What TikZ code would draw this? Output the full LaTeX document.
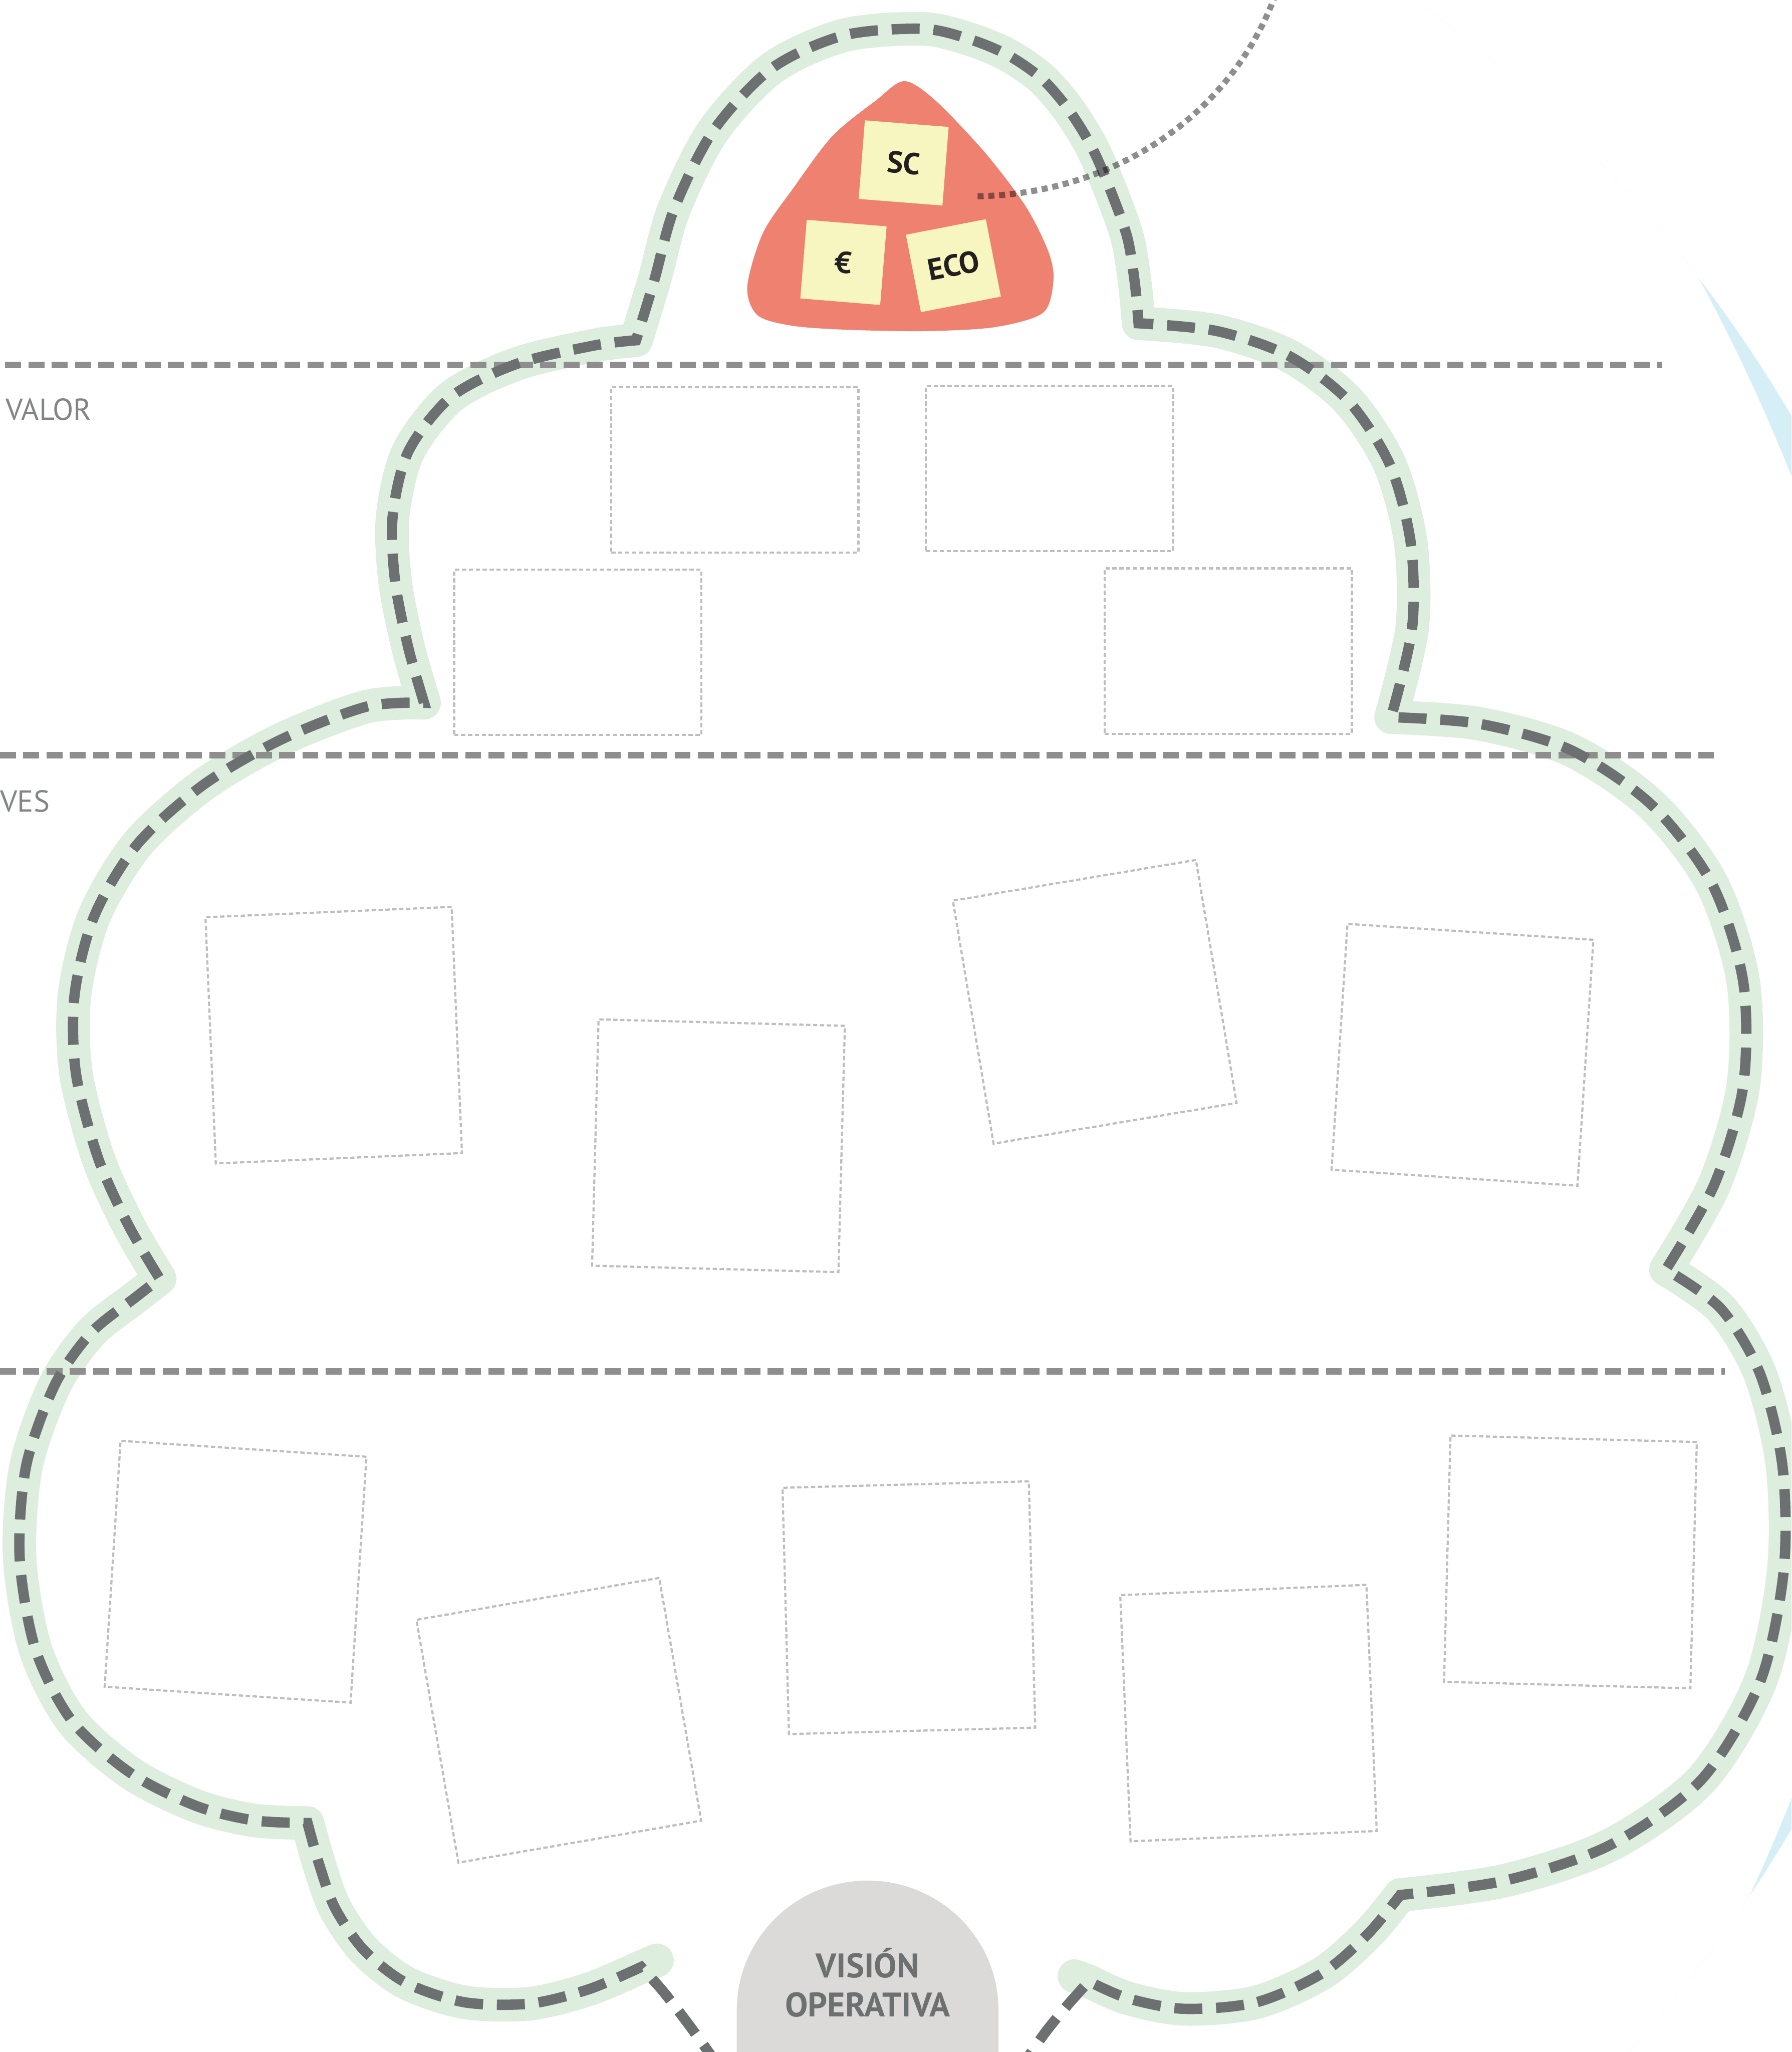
\documentclass[tikz,border=0pt]{standalone}
\usepackage{fontspec}
\setmainfont{PT Sans}

\definecolor{cloudgreen}{HTML}{DDEEDF}
\definecolor{cloudgray}{HTML}{6D7070}
\definecolor{rulegray}{HTML}{8F8E8F}
\definecolor{slotgray}{HTML}{BDBEC0}
\definecolor{labelgray}{HTML}{838486}
\definecolor{blobred}{HTML}{EF8171}
\definecolor{noteyellow}{HTML}{F7F6C0}
\definecolor{domegray}{HTML}{DBDAD9}
\definecolor{skyblue}{HTML}{D6EFF6}
\definecolor{inkblack}{HTML}{231F20}

\tikzset{
  cloudband/.style={draw=cloudgreen, line width=0.78cm, line cap=round, line join=round},
  cloudstroke/.style={draw=cloudgray, line width=0.24cm, dash pattern=on 0.65cm off 0.32cm},
  rowline/.style={draw=rulegray, line width=0.15cm, dash pattern=on 0.37cm off 0.17cm},
  slotbox/.style={draw=slotgray, line width=0.05cm, dash pattern=on 0.1cm off 0.06cm,
    inner sep=0, minimum width=5.72cm, minimum height=5.72cm},
  wideslot/.style={slotbox, minimum width=5.74cm, minimum height=3.84cm},
  stickynote/.style={fill=noteyellow, inner sep=0, minimum width=1.9cm, minimum height=1.83cm,
    text=inkblack, font=\bfseries\fontsize{20}{22}\selectfont},
  rowlabel/.style={text=labelgray, inner sep=0, font=\fontsize{20}{24}\selectfont},
  domelabel/.style={text=cloudgray, inner sep=0, font=\bfseries\fontsize{22.5}{26}\selectfont},
  linkline/.style={draw=rulegray, line width=0.14cm, dash pattern=on 0.14cm off 0.11cm}
}

% contorno de la nube (de la base izquierda a la base derecha)
\newcommand{\cloudbody}{%
  -- plot[smooth] coordinates {(490,1503) (450,1520) (405,1531) (355,1530) (310,1515) (278,1490) (256,1458) (244,1425) (235,1393)}
  -- plot[smooth] coordinates {(235,1393) (194,1391) (150,1380) (100,1355) (55,1315) (27,1260) (15,1190) (20,1120) (42,1058) (70,1018) (104,991) (122,977)}
  -- plot[smooth] coordinates {(122,977) (98,936) (75,885) (58,820) (57,760) (72,700) (105,645) (155,600) (215,565) (280,540) (324,537)}
  -- plot[smooth] coordinates {(324,537) (312,495) (302,445) (300,395) (312,345) (345,303) (395,278) (454,264) (486,260)}
  -- plot[smooth] coordinates {(486,260) (500,214) (515,160) (545,100) (590,52) (645,27) (705,22) (741,30) (770,42) (796,60) (816,83) (833,110) (846,139) (861,180) (867,215) (870,247)}
  -- plot[smooth] coordinates {(870,247) (930,253) (985,272) (1030,306) (1062,355) (1078,415) (1079,480) (1063,548)}
  -- plot[smooth] coordinates {(1063,548) (1130,553) (1200,573) (1262,615) (1308,675) (1332,750) (1332,830) (1310,905) (1273,970)}
  -- plot[smooth] coordinates {(1273,970) (1315,1000) (1345,1050) (1362,1120) (1363,1200) (1345,1285) (1300,1360) (1230,1410) (1150,1437) (1070,1448)}
  -- plot[smooth] coordinates {(1070,1448) (1045,1478) (1010,1508) (960,1530) (905,1535) (862,1527) (832,1514)}}

\begin{document}
\begin{tikzpicture}[x=0.3038mm, y=-0.3038mm]
  \useasboundingbox (0,0) rectangle (1369,1568);
  \clip (0,0) rectangle (1369,1568);

  % --- Fondo: media luna azul a la derecha ---
  \begin{scope}
    \clip (451.4,857.7) circle (32.34cm);
    \fill[skyblue, even odd rule] (451.4,857.7) circle (32.34cm) (90.1,869.1) circle (41.76cm);
  \end{scope}

  % --- Nube ---
  \draw[cloudband] (502,1498) \cloudbody -- (821,1510);

  % lineas de separacion
  \draw[rowline] (4,279) -- (1270,279);
  \draw[rowline] (0,577) -- (1310,577);
  \draw[rowline] (0,1048) -- (1318,1048);

  \draw[cloudstroke] plot[smooth] coordinates {(550,1580) (527,1548) (507,1522) (490,1503)}
    \cloudbody -- plot[smooth] coordinates {(832,1514) (815,1533) (798,1554) (780,1580)};

  % etiquetas de las franjas
  \node[rowlabel, anchor=base west] (valor) at (4,321) {VALOR};
  \node[rowlabel, anchor=base west] (ves) at (0,620.5) {VES};

  % --- Huecos para las notas ---
  \node[wideslot] (v1) at (561.5,359) {};
  \node[wideslot] (v2) at (802,358) {};
  \node[wideslot] (v3) at (441.5,498.5) {};
  \node[wideslot] (v4) at (938.5,497.5) {};

  \node[slotbox, rotate=2.4] (c1) at (255,791) {};
  \node[slotbox, rotate=-1.5] (c2) at (549,875.5) {};
  \node[slotbox, rotate=9.5] (c3) at (836.5,765.5) {};
  \node[slotbox, rotate=-3.7] (c4) at (1117.5,806) {};

  \node[slotbox, rotate=-3.7] (o1) at (180,1201) {};
  \node[slotbox, rotate=9.8] (o2) at (427,1314.5) {};
  \node[slotbox, rotate=1.5] (o3) at (694.5,1228.5) {};
  \node[slotbox, rotate=2.4] (o4) at (954,1309) {};
  \node[slotbox, rotate=-1.5] (o5) at (1200,1193.5) {};

  % --- Cima: mancha roja con tres notas ---
  \fill[blobred] plot[smooth cycle] coordinates {(691,62) (715,77) (753,117) (784,158) (801,192)
    (805,214) (797,239) (760,250) (707,253) (648,252) (606,249) (579,241) (571,219) (583,178)
    (606,144) (636,104) (669,77)};

  \node[stickynote, rotate=-4.5, minimum width=1.95cm] (sc) at (690.5,124.5) {SC};
  \node[stickynote, rotate=-4.7, minimum width=1.86cm] (euro) at (644.5,200.5) {€};
  \node[stickynote, rotate=11, minimum width=1.89cm] (eco) at (728.5,203) {ECO};

  % --- Base: vision operativa ---
  \fill[domegray] (563,1580) -- (563,1536) arc[start angle=180, end angle=360, x radius=100, y radius=99]
    -- (763,1580) -- cycle;
  \node[domelabel, anchor=base] (visiontop) at (663,1511) {VISIÓN};
  \node[domelabel, anchor=base] (visionbottom) at (663,1541) {OPERATIVA};

  % enlace punteado hacia fuera
  \coordinate (linkstart) at (747,150);
  \coordinate (linkend) at (975,-5);
  \begin{scope}[blend mode=multiply]
    \draw[linkline] (linkstart) .. controls (850,148) and (940,90) .. (linkend);
  \end{scope}
\end{tikzpicture}
\end{document}
